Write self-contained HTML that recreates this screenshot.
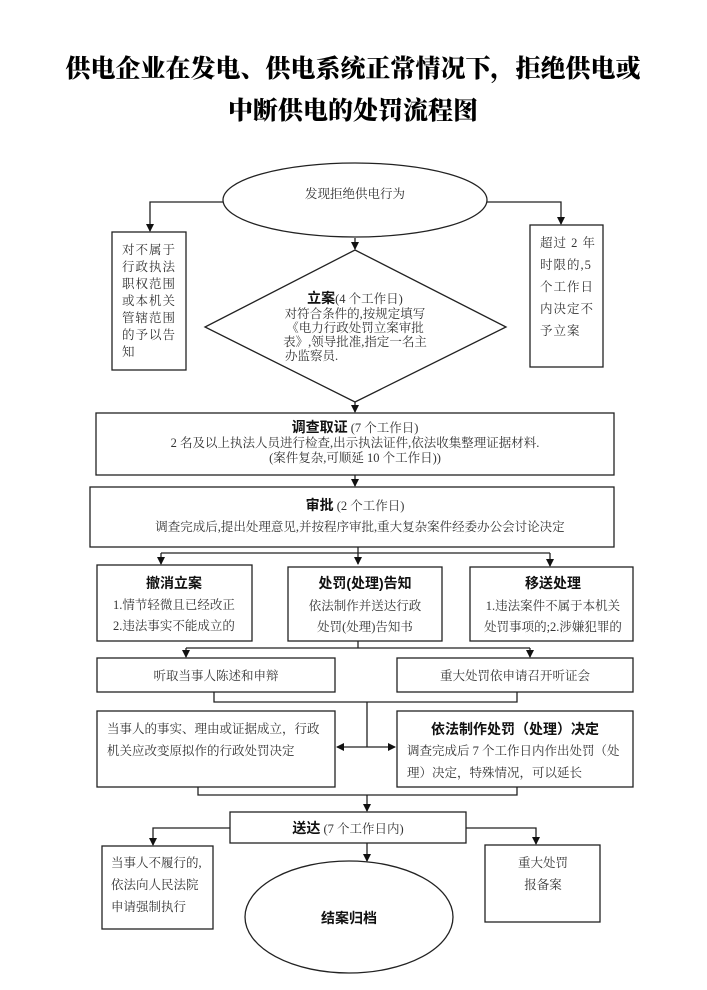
<!DOCTYPE html>
<html><head><meta charset="utf-8"><style>
html,body{margin:0;padding:0;background:#fff;}
svg{display:block;}
.t{font-family:"Liberation Serif","Noto Serif CJK SC",serif;font-size:12.5px;fill:#333;}
.b{font-family:"Liberation Sans","Noto Sans CJK SC",sans-serif;font-weight:bold;font-size:14px;fill:#111;}
.ti{font-family:"Liberation Serif","Noto Serif CJK SC",serif;font-weight:900;font-size:25px;fill:#000;}
</style></head><body>
<svg width="707" height="990" viewBox="0 0 707 990" xmlns="http://www.w3.org/2000/svg">
<defs><marker id="a" markerWidth="8" markerHeight="8" refX="7" refY="4" orient="auto" markerUnits="userSpaceOnUse"><path d="M0,0 L8,4 L0,8 z" fill="#111"/></marker></defs>
<text class="ti" x="353" y="77" text-anchor="middle">供电企业在发电、供电系统正常情况下，拒绝供电或</text>
<text class="ti" x="353" y="119" text-anchor="middle">中断供电的处罚流程图</text>
<g fill="none" stroke="#222" stroke-width="1.3">
<ellipse cx="355" cy="200" rx="132" ry="37"/>
<path d="M223,202 H150 V231" marker-end="url(#a)"/>
<path d="M487,202 H561 V224" marker-end="url(#a)"/>
<rect x="112" y="232" width="74" height="138"/>
<rect x="530" y="225" width="73" height="142"/>
<path d="M355,238 V249" marker-end="url(#a)"/>
<polygon points="355,250 506,327 355,402 205,327"/>
<path d="M355,402 V412" marker-end="url(#a)"/>
<rect x="96" y="413" width="518" height="62"/>
<path d="M355,475 V486" marker-end="url(#a)"/>
<rect x="90" y="487" width="524" height="60"/>
<path d="M358,547 V564" marker-end="url(#a)"/>
<path d="M161,553 H550"/>
<path d="M161,553 V564" marker-end="url(#a)"/>
<path d="M550,553 V566" marker-end="url(#a)"/>
<rect x="97" y="565" width="155" height="76"/>
<rect x="288" y="567" width="154" height="74"/>
<rect x="470" y="567" width="163" height="74"/>
<path d="M358,641 V648 M186,648 H530"/>
<path d="M186,648 V657" marker-end="url(#a)"/>
<path d="M530,648 V657" marker-end="url(#a)"/>
<rect x="97" y="658" width="238" height="34"/>
<rect x="397" y="658" width="236" height="34"/>
<path d="M214,692 V702 H517 V692 M367,702 V747"/>
<path d="M367,747 H337" marker-end="url(#a)"/>
<path d="M367,747 H395" marker-end="url(#a)"/>
<rect x="97" y="711" width="238" height="76"/>
<rect x="397" y="711" width="236" height="76"/>
<path d="M198,787 V795 H517 V787"/>
<path d="M367,795 V811" marker-end="url(#a)"/>
<rect x="230" y="812" width="236" height="31"/>
<path d="M230,828 H153 V845" marker-end="url(#a)"/>
<path d="M466,828 H536 V844" marker-end="url(#a)"/>
<rect x="102" y="846" width="111" height="83"/>
<rect x="485" y="845" width="115" height="77"/>
<path d="M367,843 V861" marker-end="url(#a)"/>
<ellipse cx="349" cy="917" rx="104" ry="56"/>
</g>
<text class="t" x="355" y="198" text-anchor="middle">发现拒绝供电行为</text>
<g class="t" font-size="13" letter-spacing="1">
<text x="122" y="254">对不属于</text><text x="122" y="271">行政执法</text><text x="122" y="288">职权范围</text><text x="122" y="305">或本机关</text><text x="122" y="322">管辖范围</text><text x="122" y="339">的予以告</text><text x="122" y="356">知</text>
<text x="540" y="247">超过 2 年</text><text x="540" y="269">时限的,5</text><text x="540" y="291">个工作日</text><text x="540" y="313">内决定不</text><text x="540" y="335">予立案</text>
</g>
<text x="355" y="303" text-anchor="middle"><tspan class="b">立案</tspan><tspan class="t">(4 个工作日)</tspan></text>
<text class="t" x="355" y="318" text-anchor="middle" font-size="12">对符合条件的,按规定填写</text>
<text class="t" x="355" y="332" text-anchor="middle" font-size="12">《电力行政处罚立案审批</text>
<text class="t" x="355" y="346" text-anchor="middle" font-size="12">表》,领导批准,指定一名主</text>
<text class="t" x="285" y="360" font-size="12">办监察员.</text>
<text x="355" y="432" text-anchor="middle"><tspan class="b">调查取证</tspan><tspan class="t"> (7 个工作日)</tspan></text>
<text class="t" x="355" y="447" text-anchor="middle">2 名及以上执法人员进行检查,出示执法证件,依法收集整理证据材料.</text>
<text class="t" x="355" y="462" text-anchor="middle">(案件复杂,可顺延 10 个工作日))</text>
<text x="355" y="510" text-anchor="middle"><tspan class="b">审批</tspan><tspan class="t"> (2 个工作日)</tspan></text>
<text class="t" x="360" y="531" text-anchor="middle">调查完成后,提出处理意见,并按程序审批,重大复杂案件经委办公会讨论决定</text>
<text class="b" x="174" y="588" text-anchor="middle">撤消立案</text>
<text class="t" x="174" y="609" text-anchor="middle">1.情节轻微且已经改正</text>
<text class="t" x="174" y="630" text-anchor="middle">2.违法事实不能成立的</text>
<text class="b" x="365" y="588" text-anchor="middle">处罚(处理)告知</text>
<text class="t" x="365" y="610" text-anchor="middle">依法制作并送达行政</text>
<text class="t" x="365" y="631" text-anchor="middle">处罚(处理)告知书</text>
<text class="b" x="553" y="588" text-anchor="middle">移送处理</text>
<text class="t" x="553" y="610" text-anchor="middle">1.违法案件不属于本机关</text>
<text class="t" x="553" y="631" text-anchor="middle">处罚事项的;2.涉嫌犯罪的</text>
<text class="t" x="216" y="680" text-anchor="middle">听取当事人陈述和申辩</text>
<text class="t" x="515" y="680" text-anchor="middle">重大处罚依申请召开听证会</text>
<text class="t" x="107" y="733">当事人的事实、理由或证据成立，行政</text>
<text class="t" x="107" y="755">机关应改变原拟作的行政处罚决定</text>
<text class="b" x="515" y="734" text-anchor="middle">依法制作处罚（处理）决定</text>
<text class="t" x="407" y="755">调查完成后 7 个工作日内作出处罚（处</text>
<text class="t" x="407" y="777">理）决定，特殊情况，可以延长</text>
<text x="348" y="833" text-anchor="middle"><tspan class="b">送达</tspan><tspan class="t"> (7 个工作日内)</tspan></text>
<text class="t" x="111" y="867">当事人不履行的,</text>
<text class="t" x="111" y="889">依法向人民法院</text>
<text class="t" x="111" y="911">申请强制执行</text>
<text class="t" x="543" y="867" text-anchor="middle">重大处罚</text>
<text class="t" x="543" y="889" text-anchor="middle">报备案</text>
<text class="b" x="349" y="923" text-anchor="middle" font-size="16">结案归档</text>
</svg>
</body></html>
